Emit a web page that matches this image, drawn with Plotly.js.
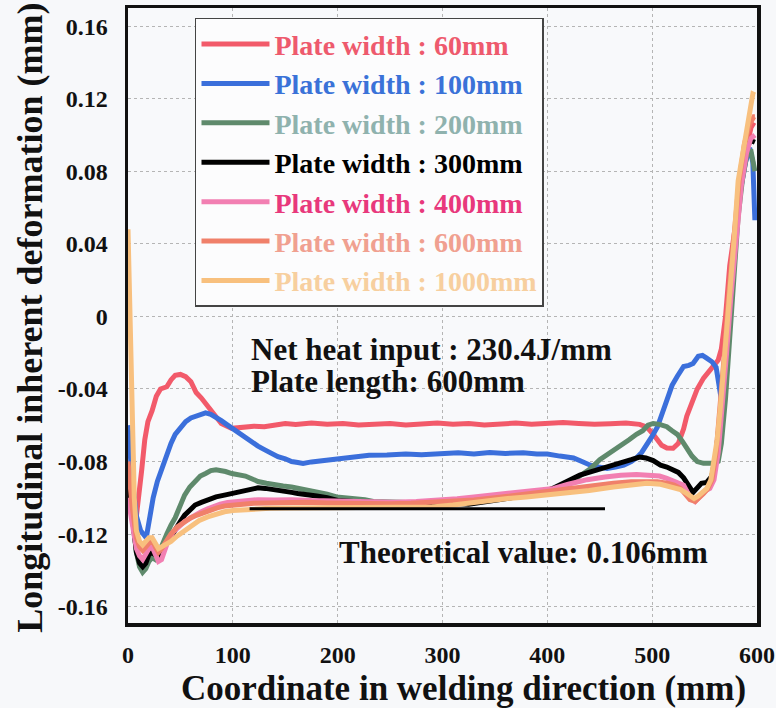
<!DOCTYPE html>
<html>
<head>
<meta charset="utf-8">
<script src="https://cdn.plot.ly/plotly-3.0.1.min.js"></script>
<style>html,body{margin:0;padding:0;background:#f7f8fa;}#chart{width:776px;height:708px;}</style>
</head>
<body>
<div id="chart"></div>
<script>
// ---- data ----
const seriesNames = ['Plate width : 60mm','Plate width : 100mm','Plate width : 200mm','Plate width : 300mm','Plate width : 400mm','Plate width : 600mm','Plate width : 1000mm'];

const x60 = [0,4,8,11,13,16,19,23,27,31,37,41,45,50,55,60,65,70,74,81,89,99,110,120,130,140,150,160,175,190,205,220,235,250,265,280,295,310,325,340,355,370,385,400,415,430,445,460,475,488,495,501,509,514,520,525,530,533,538,543,549,557,563,566,570,574,581,586,590,595,598];
const y60 = [-0.095,-0.107,-0.110,-0.097,-0.085,-0.068,-0.058,-0.052,-0.044,-0.040,-0.0388,-0.035,-0.0325,-0.032,-0.0332,-0.036,-0.042,-0.045,-0.048,-0.054,-0.059,-0.0617,-0.0612,-0.0605,-0.0608,-0.0598,-0.059,-0.0596,-0.0588,-0.0595,-0.059,-0.0598,-0.0592,-0.059,-0.0598,-0.0592,-0.0588,-0.0595,-0.059,-0.0598,-0.0592,-0.0588,-0.0595,-0.059,-0.0585,-0.059,-0.0595,-0.0592,-0.0588,-0.0595,-0.061,-0.065,-0.071,-0.0725,-0.0727,-0.070,-0.062,-0.055,-0.047,-0.040,-0.034,-0.0286,-0.024,-0.018,0.000,0.028,0.056,0.080,0.093,0.106,0.105];

const x100 = [0,4,8,12,16,18,21,24,28,32,37,41,45,50,55,60,65,70,74,79,84,89,94,100,106,112,118,124,131,137,143,150,156,162,167,175,185,199,215,230,247,265,280,298,315,330,345,360,377,390,400,412,425,433,441,449,457,465,473,480,485,490,495,500,505,510,514,519,524,530,535,539,544,548,552,557,561,564,566,569,573,577,581,585,589,593,596,598];
const y100 = [-0.060,-0.090,-0.110,-0.118,-0.121,-0.120,-0.110,-0.100,-0.091,-0.084,-0.0764,-0.070,-0.065,-0.061,-0.058,-0.056,-0.055,-0.0535,-0.0532,-0.054,-0.0555,-0.0575,-0.0595,-0.062,-0.064,-0.0665,-0.069,-0.0715,-0.0737,-0.0755,-0.0773,-0.0785,-0.080,-0.0805,-0.081,-0.0802,-0.0795,-0.078,-0.0772,-0.0765,-0.0764,-0.0758,-0.0762,-0.0755,-0.0752,-0.0758,-0.075,-0.0755,-0.0752,-0.0758,-0.0758,-0.077,-0.078,-0.080,-0.082,-0.083,-0.0838,-0.083,-0.082,-0.080,-0.078,-0.075,-0.0709,-0.066,-0.061,-0.053,-0.046,-0.038,-0.033,-0.0276,-0.027,-0.026,-0.022,-0.0215,-0.023,-0.025,-0.028,-0.037,-0.046,-0.030,0.000,0.030,0.055,0.072,0.085,0.093,0.085,0.053];

const x200 = [0,4,8,11,14,17,20,23,26,29,33,37,41,45,50,54,59,64,69,74,79,84,88,93,99,105,112,118,124,132,140,148,156,165,172,180,190,199,208,218,226,234,245,260,280,300,320,340,360,380,395,408,419,431,441,450,457,463,470,478,485,491,496,501,507,514,519,524,529,533,538,543,549,555,560,563,566,570,574,578,582,586,590,594,597,598];
const y200 = [-0.085,-0.110,-0.130,-0.138,-0.141,-0.139,-0.135,-0.133,-0.134,-0.131,-0.125,-0.120,-0.115,-0.111,-0.104,-0.0985,-0.094,-0.091,-0.088,-0.0866,-0.085,-0.0845,-0.0848,-0.0855,-0.0866,-0.087,-0.088,-0.0895,-0.091,-0.092,-0.093,-0.0935,-0.094,-0.095,-0.0955,-0.0967,-0.098,-0.0995,-0.100,-0.1004,-0.101,-0.102,-0.102,-0.1025,-0.103,-0.1028,-0.102,-0.1015,-0.1005,-0.099,-0.097,-0.095,-0.093,-0.088,-0.084,-0.079,-0.0764,-0.074,-0.0709,-0.068,-0.065,-0.063,-0.060,-0.059,-0.0595,-0.0608,-0.063,-0.065,-0.069,-0.0727,-0.077,-0.080,-0.081,-0.081,-0.081,-0.080,-0.070,-0.045,-0.010,0.025,0.055,0.075,0.088,0.092,0.085,0.080];

const x300 = [0,4,8,11,14,17,20,23,26,29,32,35,40,45,50,54,59,64,70,76,84,92,99,105,112,118,124,131,137,143,150,156,162,170,180,190,200,215,230,250,270,290,310,325,340,355,370,385,396,405,418,431,442,453,462,470,480,488,494,501,508,514,520,525,530,535,539,543,547,552,557,561,565,569,573,578,584,590,594,598];
const y300 = [-0.090,-0.112,-0.130,-0.136,-0.138,-0.136,-0.131,-0.130,-0.132,-0.133,-0.130,-0.127,-0.122,-0.117,-0.113,-0.1096,-0.107,-0.104,-0.1025,-0.101,-0.0995,-0.0985,-0.0975,-0.0967,-0.0958,-0.0948,-0.0945,-0.0948,-0.0952,-0.096,-0.0965,-0.097,-0.0976,-0.098,-0.099,-0.100,-0.1015,-0.102,-0.1025,-0.103,-0.1035,-0.1035,-0.103,-0.1035,-0.1025,-0.101,-0.0995,-0.098,-0.097,-0.0948,-0.091,-0.0875,-0.0855,-0.0838,-0.082,-0.081,-0.079,-0.0775,-0.078,-0.0795,-0.082,-0.083,-0.0845,-0.086,-0.089,-0.094,-0.097,-0.0945,-0.092,-0.0915,-0.088,-0.075,-0.054,-0.025,0.008,0.040,0.0746,0.093,0.097,0.096];

const x400 = [0,4,8,11,14,17,20,23,26,29,32,35,38,43,48,54,60,65,70,76,82,88,95,102,112,124,140,156,175,195,215,235,255,275,295,314,330,345,360,377,392,406,420,438,455,470,485,498,507,514,522,530,536,541,546,551,555,559,563,567,571,575,580,585,590,594,598];
const y400 = [-0.100,-0.115,-0.128,-0.132,-0.134,-0.131,-0.128,-0.127,-0.131,-0.135,-0.134,-0.129,-0.124,-0.119,-0.116,-0.113,-0.111,-0.109,-0.1077,-0.106,-0.1045,-0.1035,-0.1025,-0.102,-0.1015,-0.101,-0.1012,-0.101,-0.1015,-0.1018,-0.102,-0.1022,-0.1025,-0.102,-0.1015,-0.1005,-0.0995,-0.0985,-0.0975,-0.0967,-0.096,-0.0948,-0.0925,-0.090,-0.0885,-0.0875,-0.0872,-0.0875,-0.088,-0.0893,-0.091,-0.093,-0.0995,-0.102,-0.099,-0.096,-0.0948,-0.090,-0.075,-0.050,-0.020,0.010,0.045,0.072,0.090,0.098,0.100];

const x600 = [0,4,8,11,14,17,20,23,26,29,32,36,41,47,54,60,66,72,78,85,92,100,110,120,135,150,170,190,210,230,250,270,290,310,330,350,370,390,410,430,448,463,480,495,505,514,521,527,532,536,541,545,549,553,557,561,565,569,573,578,583,588,593,597,598];
const y600 = [-0.080,-0.105,-0.122,-0.127,-0.129,-0.127,-0.124,-0.123,-0.127,-0.130,-0.128,-0.124,-0.120,-0.116,-0.113,-0.111,-0.1095,-0.108,-0.1068,-0.1055,-0.1045,-0.104,-0.1035,-0.103,-0.1028,-0.1025,-0.1025,-0.1028,-0.103,-0.1035,-0.1032,-0.103,-0.1025,-0.102,-0.1012,-0.100,-0.0985,-0.097,-0.0955,-0.094,-0.093,-0.092,-0.0912,-0.091,-0.0912,-0.092,-0.093,-0.0948,-0.098,-0.101,-0.102,-0.100,-0.0976,-0.095,-0.090,-0.075,-0.050,-0.020,0.012,0.045,0.075,0.095,0.106,0.110,0.110];

const x1000 = [0,2,4,6,8,11,14,17,20,23,26,29,32,36,41,47,54,61,68,76,84,92,100,108,120,135,150,170,190,210,230,250,270,290,310,336,360,380,400,420,440,463,480,495,508,520,527,533,537,540,544,548,552,556,559,562,565,568,571,574,578,582,587,592,596,598];
const y1000 = [0.048,0.000,-0.060,-0.100,-0.118,-0.124,-0.126,-0.124,-0.122,-0.122,-0.125,-0.128,-0.127,-0.126,-0.124,-0.121,-0.118,-0.115,-0.1125,-0.1105,-0.109,-0.1077,-0.107,-0.1067,-0.106,-0.1058,-0.1056,-0.1055,-0.1057,-0.1055,-0.1058,-0.1055,-0.1052,-0.105,-0.104,-0.102,-0.1005,-0.0995,-0.0985,-0.0972,-0.096,-0.094,-0.0928,-0.092,-0.0925,-0.094,-0.0955,-0.0976,-0.0995,-0.1004,-0.099,-0.0965,-0.095,-0.090,-0.080,-0.068,-0.0506,-0.030,-0.0138,0.012,0.0414,0.0746,0.093,0.1116,0.1226,0.122];

const theoryX = [116, 455];
const theoryY = [-0.106, -0.106];

const xTickVals = [0,100,200,300,400,500,600];
const xTickText = ['0','100','200','300','400','500','600'];
const yTickVals = [-0.16,-0.12,-0.08,-0.04,0,0.04,0.08,0.12,0.16];
const yTickText = ['-0.16','-0.12','-0.08','-0.04','0','0.04','0.08','0.12','0.16'];

// ---- styles ----
const lineColors = ['#f25a6a','#3b6fdb','#5f8a6c','#000000','#f27fb2','#f0806a','#f8c07e'];
const textColors = ['#ee5a6d','#3a72d8','#8fb2ae','#000000','#e8387c','#f0a090','#f7cf9f'];
const xs = [x60,x100,x200,x300,x400,x600,x1000];
const ys = [y60,y100,y200,y300,y400,y600,y1000];

const SERIF = 'Liberation Serif';

const traces = xs.map((xv, i) => ({
  type: 'scatter', mode: 'lines',
  x: xv, y: ys[i],
  name: '<b><span style="color:' + textColors[i] + '">' + seriesNames[i] + '</span></b>',
  line: {color: lineColors[i], width: 5},
  legendgroup: 'g' + i
}));
traces.push({
  type: 'scatter', mode: 'lines', x: theoryX, y: theoryY,
  line: {color: '#000', width: 3}, showlegend: false, hoverinfo: 'skip'
});

const tickFont = {family: SERIF, size: 24, color: '#111'};

const layout = {
  width: 776, height: 708,
  margin: {l: 128, r: 19, t: 8, b: 85, pad: 0},
  paper_bgcolor: '#f7f8fa', plot_bgcolor: '#f8f9fb',
  font: {family: SERIF, color: '#111'},
  showlegend: true,
  legend: {
    x: 0.1065, y: 0.984, xanchor: 'left', yanchor: 'top',
    bgcolor: '#fcfcfd', bordercolor: '#444', borderwidth: 1.5,
    font: {family: SERIF, size: 28},
    itemwidth: 68, traceorder: 'grouped', tracegroupgap: 0
  },
  xaxis: {
    range: [0, 600], tickvals: xTickVals, ticktext: xTickText.map(t => '<b>' + t + '</b>'),
    showgrid: true, gridcolor: '#b5b5b5', griddash: 'dot', gridwidth: 1,
    showline: true, mirror: true, linewidth: 3.5, linecolor: '#111',
    zeroline: false, ticks: '', ticklabelstandoff: 8,
    tickfont: tickFont
  },
  yaxis: {
    range: [-0.169, 0.17], tickvals: yTickVals, ticktext: yTickText.map(t => '<b>' + t + '</b>'),
    showgrid: true, gridcolor: '#b5b5b5', griddash: 'dot', gridwidth: 1,
    showline: true, mirror: true, linewidth: 3.5, linecolor: '#111',
    zeroline: false, ticks: '', ticklabelstandoff: 12,
    tickfont: tickFont
  },
  annotations: [
    {text: '<b>Coordinate in welding direction (mm)</b>', xref: 'paper', yref: 'paper', x: 0.533, y: -0.106, xanchor: 'center', yanchor: 'middle', showarrow: false, font: {family: SERIF, size: 35, color: '#111'}},
    {text: '<b>Longitudinal inherent deformation (mm)</b>', xref: 'paper', yref: 'paper', x: -0.156, y: 0.496, xanchor: 'center', yanchor: 'middle', textangle: -90, showarrow: false, font: {family: SERIF, size: 36, color: '#111'}},
    {text: '<b>Net heat input : 230.4J/mm</b>', xref: 'paper', yref: 'paper', x: 0.192, y: 0.4455, xanchor: 'left', yanchor: 'middle', showarrow: false, font: {family: SERIF, size: 31, color: '#111'}},
    {text: '<b>Plate length: 600mm</b>', xref: 'paper', yref: 'paper', x: 0.192, y: 0.392, xanchor: 'left', yanchor: 'middle', showarrow: false, font: {family: SERIF, size: 31, color: '#111'}},
    {text: '<b>Theoretical value: 0.106mm</b>', xref: 'paper', yref: 'paper', x: 0.332, y: 0.114, xanchor: 'left', yanchor: 'middle', showarrow: false, font: {family: SERIF, size: 31, color: '#111'}}
  ]
};

Plotly.newPlot('chart', traces, layout, {displayModeBar: false, staticPlot: true});
</script>
</body>
</html>
